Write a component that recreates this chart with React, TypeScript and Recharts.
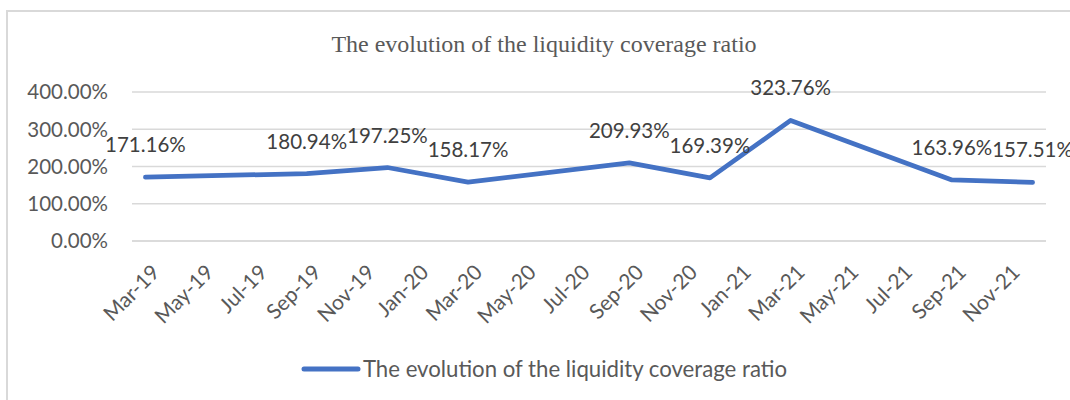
import {
  LineChart,
  Line,
  XAxis,
  YAxis,
  CartesianGrid,
  LabelList,
  Legend,
} from "recharts";

const seriesName = "The evolution of the liquidity coverage ratio";

// quarter-end readings (Jun figures are not in the source)
const pointMonths = [
  "Mar-19",
  "Sep-19",
  "Dec-19",
  "Mar-20",
  "Sep-20",
  "Dec-20",
  "Mar-21",
  "Sep-21",
  "Dec-21",
];
const lcrValues = [
  171.16, 180.94, 197.25, 158.17, 209.93, 169.39, 323.76, 163.96, 157.51,
];

const tickLabels = [
  "Mar-19",
  "May-19",
  "Jul-19",
  "Sep-19",
  "Nov-19",
  "Jan-20",
  "Mar-20",
  "May-20",
  "Jul-20",
  "Sep-20",
  "Nov-20",
  "Jan-21",
  "Mar-21",
  "May-21",
  "Jul-21",
  "Sep-21",
  "Nov-21",
];
const yTicks = [0, 100, 200, 300, 400];

const MONTHS = ["Jan", "Feb", "Mar", "Apr", "May", "Jun", "Jul", "Aug", "Sep", "Oct", "Nov", "Dec"];

// months since Mar-19, so the axis behaves like a monthly date axis
function monthIndex(label: string) {
  const [mon, yy] = label.split("-");
  return (Number(yy) - 19) * 12 + MONTHS.indexOf(mon) - 2;
}

const data = pointMonths.map((m, i) => ({
  month: m,
  m: monthIndex(m),
  lcr: lcrValues[i],
}));

const xTicks = tickLabels.map(monthIndex);
const lastMonth = monthIndex("Dec-21");

const fontSans = "Lato, 'Noto Sans', sans-serif";
const grey = "#595959";
const blue = "#4472C4";

function LegendContent() {
  return (
    <div
      style={{
        display: "flex",
        justifyContent: "center",
        alignItems: "center",
        fontFamily: fontSans,
        fontSize: 22.2,
        color: grey,
      }}
    >
      <svg width={60} height={10} style={{ marginRight: 2 }}>
        <line
          x1={3}
          y1={5}
          x2={57}
          y2={5}
          stroke={blue}
          strokeWidth={5}
          strokeLinecap="round"
        />
      </svg>
      <span>{seriesName}</span>
    </div>
  );
}

export default function App() {
  return (
    <div
      style={{
        position: "fixed",
        left: 0,
        top: 0,
        width: 1070,
        height: 400,
        overflow: "hidden",
        background: "#fff",
      }}
    >
      <div
        style={{
          position: "absolute",
          left: 6,
          top: 10,
          width: 1100,
          height: 420,
          border: "2px solid #d9d9d9",
        }}
      />
      <div
        style={{
          position: "absolute",
          left: 0,
          width: 1088,
          top: 31,
          textAlign: "center",
          fontFamily: "'Liberation Serif', 'Times New Roman', serif",
          fontSize: 24,
          color: grey,
          whiteSpace: "nowrap",
        }}
      >
        {seriesName}
      </div>
      <LineChart
        width={1070}
        height={400}
        data={data}
        margin={{ top: 92, right: 24, bottom: 0, left: 12 }}
        style={{ position: "absolute", left: 0, top: 0 }}
      >
        <CartesianGrid vertical={false} stroke="#d9d9d9" strokeWidth={1.5} />
        <XAxis
          type="number"
          dataKey="m"
          domain={[-0.5, lastMonth + 0.5]}
          ticks={xTicks}
          tickFormatter={(v: number) => tickLabels[xTicks.indexOf(v)] ?? ""}
          interval={0}
          height={159}
          axisLine={{ stroke: "#d9d9d9", strokeWidth: 1.5 }}
          tickLine={false}
          tickSize={0}
          tickMargin={22}
          angle={-45}
          textAnchor="end"
          tick={{ fill: grey, fontSize: 21, fontFamily: fontSans, dx: 5 }}
        />
        <YAxis
          type="number"
          domain={[0, 400]}
          ticks={yTicks}
          width={120}
          axisLine={false}
          tickLine={false}
          tickSize={0}
          tickMargin={24}
          tickFormatter={(v: number) => `${v.toFixed(2)}%`}
          tick={{ fill: grey, fontSize: 20.5, fontFamily: fontSans }}
        />
        <Legend
          layout="horizontal"
          verticalAlign="middle"
          align="center"
          wrapperStyle={{ top: 355, left: 18, width: 1052 }}
          content={<LegendContent />}
        />
        <Line
          type="linear"
          dataKey="lcr"
          name={seriesName}
          stroke={blue}
          strokeWidth={4.75}
          strokeLinecap="round"
          strokeLinejoin="round"
          dot={false}
          activeDot={false}
          isAnimationActive={false}
        >
          <LabelList
            dataKey="lcr"
            position="top"
            offset={25}
            formatter={(v: number) => `${v.toFixed(2)}%`}
            style={{ fill: "#404040", fontSize: 20.5, fontFamily: fontSans }}
          />
        </Line>
      </LineChart>
    </div>
  );
}
